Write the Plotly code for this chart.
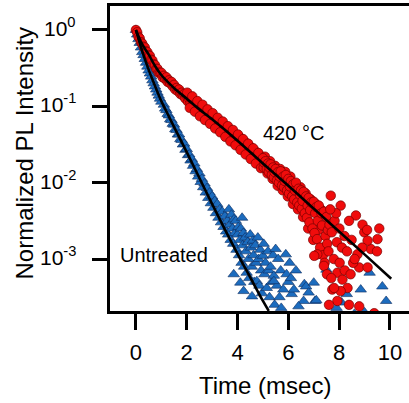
import plotly.graph_objects as go

# ---------------- data ----------------
# 420 °C sample (red circles)
red_early_t = [0.00, 0.05, 0.10, 0.15, 0.20, 0.25, 0.30, 0.35, 0.40, 0.45,
               0.50, 0.55, 0.60, 0.65, 0.70, 0.75, 0.80, 0.85, 0.90, 0.95]
red_early_y = [1.00, 0.933, 0.813, 0.776, 0.692, 0.661, 0.603, 0.589, 0.525, 0.513,
               0.468, 0.457, 0.407, 0.398, 0.355, 0.347, 0.309, 0.309, 0.275, 0.275]

red_band_t = [1.00, 1.05, 1.10, 1.15, 1.20, 1.25, 1.30, 1.35, 1.40, 1.45,
              1.50, 1.55, 1.60, 1.65, 1.70, 1.75, 1.80, 1.85, 1.90, 1.95,
              2.00, 2.05, 2.10, 2.15, 2.20, 2.25, 2.30, 2.35, 2.40, 2.45,
              2.50, 2.55, 2.60, 2.65, 2.70, 2.75, 2.80, 2.85, 2.90, 2.95,
              3.00, 3.05, 3.10, 3.15, 3.20, 3.25, 3.30, 3.35, 3.40, 3.45,
              3.50, 3.55, 3.60, 3.65, 3.70, 3.75, 3.80, 3.85, 3.90, 3.95,
              4.00, 4.05, 4.10, 4.15, 4.20, 4.25, 4.30, 4.35, 4.40, 4.45,
              4.50, 4.55, 4.60, 4.65, 4.70, 4.75, 4.80, 4.85, 4.90, 4.95]
red_band_y = [0.275, 0.240, 0.251, 0.229, 0.240, 0.209, 0.219, 0.200, 0.209, 0.182,
              0.191, 0.166, 0.174, 0.158, 0.166, 0.145, 0.151, 0.138, 0.145, 0.126,
              0.138, 0.115, 0.126, 0.110, 0.123, 0.102, 0.115, 0.0955, 0.107, 0.0891,
              0.100, 0.0832, 0.0955, 0.0794, 0.0891, 0.0741, 0.0832, 0.0692, 0.0794, 0.0661,
              0.0759, 0.0603, 0.0708, 0.0562, 0.0661, 0.0525, 0.0631, 0.0501, 0.0589, 0.0468,
              0.0550, 0.0437, 0.0513, 0.0407, 0.0479, 0.0380, 0.0457, 0.0363, 0.0427, 0.0339,
              0.0417, 0.0302, 0.0389, 0.0282, 0.0363, 0.0263, 0.0339, 0.0245, 0.0316, 0.0229,
              0.0295, 0.0214, 0.0275, 0.0200, 0.0257, 0.0186, 0.0240, 0.0174, 0.0224, 0.0162]

red_spread_t = [2.02, 2.12, 2.22, 2.32, 2.42, 2.52, 2.62, 2.72, 2.82, 2.92,
                3.02, 3.12, 3.22, 3.32, 3.42, 3.52, 3.62, 3.72, 3.82, 3.92,
                4.02, 4.12, 4.22, 4.32, 4.42, 4.52, 4.62, 4.72, 4.82, 4.92,
                5.08, 5.18, 5.28, 5.38, 5.48, 5.58, 5.68, 5.78, 5.88, 5.98,
                6.08, 6.18, 6.28, 6.38, 6.48, 6.58, 6.68, 6.78, 6.88, 6.98,
                7.08, 7.18, 7.28, 7.38]
red_spread_y = [0.151, 0.0955, 0.135, 0.0851, 0.117, 0.0741, 0.105, 0.0661, 0.0912, 0.0589,
                0.0813, 0.0513, 0.0708, 0.0457, 0.0631, 0.0398, 0.0550, 0.0347, 0.0490, 0.0309,
                0.0427, 0.0269, 0.0372, 0.0234, 0.0324, 0.0204, 0.0282, 0.0178, 0.0245, 0.0155,
                0.0219, 0.0132, 0.0191, 0.0112, 0.0166, 0.00912, 0.0151, 0.00794, 0.0138, 0.00661,
                0.0120, 0.00525, 0.00891, 0.00447, 0.00871, 0.00355, 0.00724, 0.00251, 0.00603, 0.00178,
                0.00525, 0.00240, 0.00447, 0.00141]

red_mid_t = [5.00, 5.03, 5.06, 5.10, 5.15, 5.20, 5.23, 5.26, 5.30, 5.35,
             5.40, 5.43, 5.46, 5.50, 5.55, 5.60, 5.63, 5.66, 5.70, 5.75,
             5.80, 5.83, 5.86, 5.90, 5.95, 6.00, 6.03, 6.06, 6.10, 6.15,
             6.20, 6.23, 6.26, 6.30, 6.35, 6.40, 6.43, 6.46, 6.50, 6.53, 6.56,
             6.60, 6.65, 6.70, 6.73, 6.76, 6.80, 6.83, 6.86, 6.90, 6.95,
             7.00, 7.03, 7.06, 7.10, 7.13, 7.16, 7.20, 7.25, 7.30, 7.33, 7.36,
             7.40, 7.43, 7.46, 7.50, 7.53, 7.56]
red_mid_y = [0.0209, 0.0158, 0.0182, 0.0191, 0.0151, 0.0178, 0.0138, 0.0158, 0.0174, 0.0126,
             0.0158, 0.0117, 0.0138, 0.0151, 0.0107, 0.0138, 0.0100, 0.0120, 0.0141, 0.00912,
             0.0120, 0.00871, 0.0105, 0.0126, 0.00794, 0.0112, 0.00724, 0.00891, 0.0105, 0.00661,
             0.00955, 0.00603, 0.00794, 0.0100, 0.00550, 0.00832, 0.00501, 0.00692, 0.00794, 0.00457, 0.00575,
             0.00759, 0.00398, 0.00661, 0.00347, 0.00501, 0.00631, 0.00302, 0.00437, 0.00550, 0.00251,
             0.00562, 0.00219, 0.00398, 0.00479, 0.00182, 0.00316, 0.00501, 0.00141, 0.00398, 0.00275, 0.00112,
             0.00417, 0.000891, 0.00200, 0.00355, 0.00158, 0.00240]

red_tail_t = [7.67, 8.06, 8.66, 8.39, 9.58, 9.51, 8.99, 9.25, 9.49, 7.14,
              7.40, 7.93, 8.13, 8.33, 7.73, 8.06, 8.79, 9.12, 7.93, 7.60,
              8.39, 8.79, 9.38, 9.12, 8.72, 8.55, 7.02, 7.80, 7.62, 7.71,
              7.82, 7.91, 8.01, 8.11, 8.21, 8.31, 8.49, 8.61, 8.91, 7.58,
              7.79, 8.02, 7.52, 7.69, 7.88, 8.22, 8.45, 7.65, 8.92, 9.10]
red_tail_y = [0.00676, 0.00501, 0.00372, 0.00316, 0.00251, 0.00182, 0.00224, 0.00135, 0.00126, 0.00115,
              0.000813, 0.000661, 0.000537, 0.000417, 0.000398, 0.000380, 0.000776, 0.000776, 0.000282, 0.000251,
              0.000251, 0.000240, 0.000195, 0.00174, 0.00115, 0.000891, 0.00110, 0.000417, 0.00282, 0.00224,
              0.00316, 0.00166, 0.00251, 0.00141, 0.00200, 0.00126, 0.00178, 0.00100, 0.00141, 0.00126,
              0.00100, 0.000891, 0.000631, 0.000562, 0.00398, 0.000708, 0.000631, 0.00447, 0.00282, 0.00240]

# Untreated sample (blue triangles)
blue_early_t = [0.00, 0.05, 0.10, 0.15, 0.20, 0.25, 0.30, 0.35, 0.40, 0.45, 0.50,
                0.55, 0.60, 0.65, 0.70, 0.75, 0.80, 0.85, 0.90, 0.95, 1.00]
blue_early_y = [1.00, 0.871, 0.759, 0.676, 0.589, 0.513, 0.468, 0.417, 0.372, 0.331, 0.295,
                0.269, 0.245, 0.219, 0.200, 0.182, 0.166, 0.151, 0.138, 0.126, 0.115]

blue_band_t = [1.10, 1.15, 1.20, 1.25, 1.30, 1.35, 1.40, 1.45, 1.50, 1.55,
               1.60, 1.65, 1.70, 1.75, 1.80, 1.85, 1.90, 1.95, 2.00, 2.05,
               2.10, 2.15, 2.20, 2.25, 2.30, 2.35, 2.40, 2.45, 2.50, 2.55,
               2.60, 2.65, 2.70, 2.75, 2.80, 2.85, 2.90, 2.95, 3.00, 3.05,
               3.10, 3.15, 3.20, 3.25, 3.30, 3.35, 3.40, 3.45, 3.50, 3.55]
blue_band_y = [0.105, 0.0933, 0.0891, 0.0794, 0.0759, 0.0676, 0.0661, 0.0589, 0.0575, 0.0501,
               0.0490, 0.0427, 0.0427, 0.0372, 0.0363, 0.0316, 0.0324, 0.0269, 0.0275, 0.0229,
               0.0234, 0.0195, 0.0204, 0.0166, 0.0178, 0.0141, 0.0151, 0.0120, 0.0132, 0.0102,
               0.0112, 0.00871, 0.00977, 0.00741, 0.00851, 0.00631, 0.00741, 0.00537, 0.00661, 0.00468,
               0.00575, 0.00398, 0.00525, 0.00347, 0.00447, 0.00302, 0.00417, 0.00263, 0.00363, 0.00229]

blue_tail_t = [3.60, 3.63, 3.66, 3.70, 3.73, 3.76, 3.80, 3.83, 3.86, 3.90, 3.93, 3.96,
               4.00, 4.03, 4.06, 4.10, 4.13, 4.16, 4.18, 4.20, 4.23, 4.26,
               4.30, 4.33, 4.36, 4.40, 4.43, 4.46, 4.50, 4.53, 4.56,
               4.60, 4.63, 4.66, 4.70, 4.73, 4.76, 4.80, 4.83, 4.86,
               4.90, 4.93, 4.96, 5.00, 5.03, 5.06, 5.10, 5.15,
               5.20, 5.23, 5.26, 5.30, 5.35, 5.40, 5.43, 5.46, 5.50, 5.55,
               5.60, 5.65, 5.70, 5.72, 5.90, 5.93, 6.00, 6.05, 6.10, 6.13,
               6.22, 6.30, 6.60, 6.63, 6.70, 6.80, 7.00, 7.05, 7.10, 7.50,
               7.90, 8.10, 8.30, 8.85, 9.20, 9.70, 9.85, 9.00, 8.60,
               3.85, 4.24, 4.57, 4.11, 5.43, 6.40, 5.80]
blue_tail_y = [0.00316, 0.00209, 0.00447, 0.00282, 0.00178, 0.00380, 0.00251, 0.00158, 0.00331, 0.00219, 0.00316, 0.00132,
               0.00209, 0.00263, 0.00112, 0.00178, 0.00251, 0.000891, 0.00347, 0.00151, 0.00219, 0.000794,
               0.00191, 0.00126, 0.000661, 0.00166, 0.00100, 0.000562, 0.00209, 0.00141, 0.000794,
               0.00174, 0.00112, 0.000501, 0.00151, 0.000891, 0.000513, 0.00191, 0.00100, 0.000447,
               0.00132, 0.000708, 0.000355, 0.00110, 0.00158, 0.000631, 0.000891, 0.000417,
               0.00126, 0.000708, 0.000316, 0.000794, 0.000501, 0.00112, 0.000603, 0.000251, 0.00135, 0.000447,
               0.00100, 0.000316, 0.000708, 0.000229, 0.00115, 0.000631, 0.000501, 0.000891, 0.000562, 0.000347,
               0.000398, 0.000708, 0.000282, 0.000468, 0.000437, 0.000363, 0.000490, 0.000282, 0.000288, 0.000724,
               0.000229, 0.000269, 0.000347, 0.000398, 0.000661, 0.000437, 0.000282, 0.000200, 0.000191,
               0.000631, 0.000380, 0.000324, 0.000490, 0.000513, 0.000240, 0.000398]

# fitted curves (black lines)
red_fit_t = [0.0, 0.25, 0.5, 0.75, 1.0, 1.5, 2.0, 2.5, 3.0, 4.0, 5.0, 6.0, 7.0, 8.0, 9.0, 10.05]
red_fit_y = [1.0, 0.646, 0.479, 0.339, 0.257, 0.174, 0.126, 0.0912, 0.0676, 0.0355,
             0.0178, 0.00912, 0.00457, 0.00229, 0.00115, 0.00055]
blue_fit_t = [0.0, 0.25, 0.5, 0.75, 1.0, 1.25, 1.5, 2.0, 2.5, 3.0, 3.5, 4.0, 4.5, 5.0, 5.23]
blue_fit_y = [1.0, 0.525, 0.302, 0.186, 0.117, 0.0794, 0.0537, 0.0251, 0.0115, 0.00525,
              0.00245, 0.00117, 0.000575, 0.000282, 0.000209]

x_tick_vals = [0, 2, 4, 6, 8, 10]
y_tick_vals = [1, 0.1, 0.01, 0.001]
y_tick_exp = [0, -1, -2, -3]
y_tick_text = ["10<sup>0</sup>", "10<sup>-1</sup>", "10<sup>-2</sup>", "10<sup>-3</sup>"]

# ---------------- figure ----------------
FONT = "Arial, Liberation Sans, sans-serif"
W, H = 409, 403
ML, MT, MR, MB = 110, 6, 0, 92

red_t = red_early_t + red_band_t + red_spread_t + red_mid_t + red_tail_t
red_y = red_early_y + red_band_y + red_spread_y + red_mid_y + red_tail_y
blue_t = blue_early_t + blue_band_t + blue_tail_t
blue_y = blue_early_y + blue_band_y + blue_tail_y

fig = go.Figure()
fig.add_trace(go.Scatter(
    x=blue_t, y=blue_y, mode="markers", name="Untreated",
    marker=dict(symbol="triangle-up", size=10, color="rgb(28,108,190)",
                line=dict(color="rgb(15,45,95)", width=0.6)),
))
fig.add_trace(go.Scatter(
    x=red_t, y=red_y, mode="markers", name="420 °C",
    marker=dict(symbol="circle", size=9.5, color="rgb(240,12,12)",
                line=dict(color="rgb(120,0,0)", width=0.7)),
))
fig.add_trace(go.Scatter(x=blue_fit_t, y=blue_fit_y, mode="lines",
                         line=dict(color="black", width=2.6, shape="spline")))
fig.add_trace(go.Scatter(x=red_fit_t, y=red_fit_y, mode="lines",
                         line=dict(color="black", width=2.6, shape="spline")))

pw = W - ML - MR
ph = H - MT - MB

annotations = [
    dict(text="Time (msec)", xref="paper", yref="paper",
         x=(264.5 - ML) / pw, y=(H - MB - 385) / ph,
         showarrow=False, font=dict(family=FONT, size=24),
         xanchor="center", yanchor="middle"),
    dict(text="Normalized PL Intensity", xref="paper", yref="paper",
         x=(24 - ML) / pw, y=(H - MB - 153.5) / ph, textangle=-90,
         showarrow=False, font=dict(family=FONT, size=24),
         xanchor="center", yanchor="middle"),
    dict(text="420 °C", x=6.20, y=-1.349, xref="x", yref="y",
         showarrow=False, font=dict(family=FONT, size=20),
         xanchor="center", yanchor="middle"),
    dict(text="Untreated", x=1.12, y=-2.948, xref="x", yref="y",
         showarrow=False, font=dict(family=FONT, size=20),
         xanchor="center", yanchor="middle"),
]
# y tick labels placed as text right of the label column
for e, txt in zip(y_tick_exp, y_tick_text):
    annotations.append(dict(
        text=txt, xref="paper", yref="y", x=(78 - ML) / pw, y=e,
        xanchor="right", yanchor="middle", yshift=3, showarrow=False,
        font=dict(family=FONT, size=21)))

fig.update_layout(
    width=W, height=H,
    margin=dict(l=ML, r=MR, t=MT, b=MB, pad=0),
    plot_bgcolor="white", paper_bgcolor="white",
    showlegend=False,
    font=dict(family=FONT, size=22, color="black"),
    xaxis=dict(
        range=[-1.02, 10.75], tickvals=x_tick_vals,
        showgrid=False, zeroline=False,
        showline=True, linecolor="black", linewidth=2.5, mirror=True,
        ticks="outside", ticklen=16, tickwidth=2.5, tickcolor="black",
        ticklabelstandoff=4,
        tickfont=dict(family=FONT, size=22), layer="above traces",
    ),
    yaxis=dict(
        type="log", range=[-3.681, 0.314],
        tickvals=y_tick_vals, showticklabels=False,
        showgrid=False, zeroline=False,
        showline=True, linecolor="black", linewidth=2.5, mirror=False,
        ticks="outside", ticklen=15, tickwidth=2.5, tickcolor="black",
        layer="above traces",
    ),
    annotations=annotations,
)

fig.write_html(
    "out.html",
    config={"displayModeBar": False},
    post_script="document.body.style.margin='0px';document.body.style.overflow='hidden';",
)
